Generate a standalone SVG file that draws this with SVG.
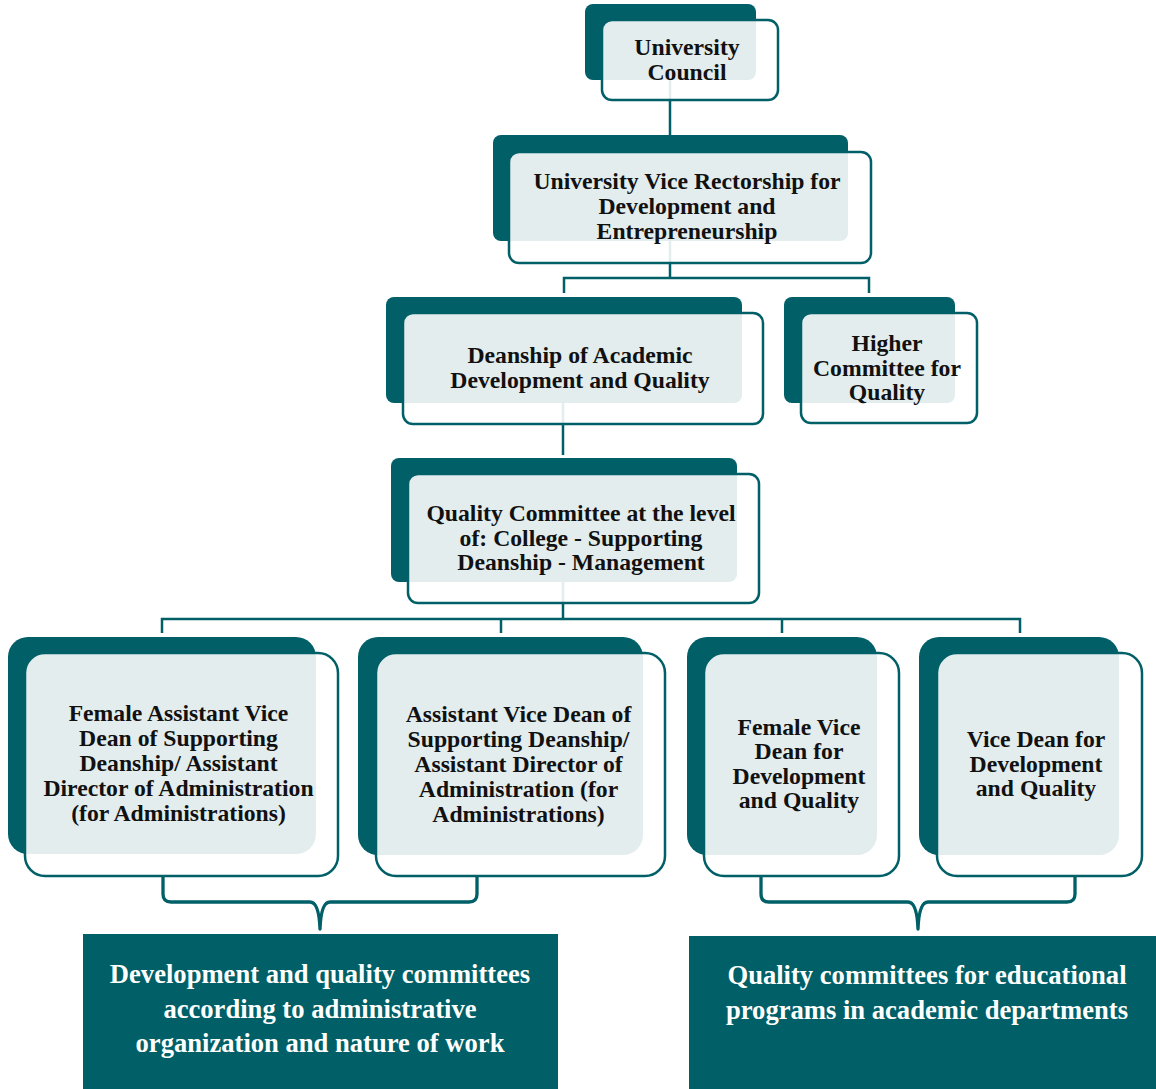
<svg xmlns="http://www.w3.org/2000/svg" width="1156" height="1089" viewBox="0 0 1156 1089">
  <style>
    .back { fill: #005F67; }
    .front { fill: #ffffff; fill-opacity: 0.89; stroke: #005F67; stroke-width: 2.5; }
    .lbl { font-family: "Liberation Serif", "Times New Roman", serif; font-weight: bold; font-size: 23.7px; fill: #111111; text-anchor: middle; }
    .note { fill: #005F67; }
    .noteText { font-family: "Liberation Serif", "Times New Roman", serif; font-weight: bold; font-size: 26.6px; fill: #ffffff; text-anchor: middle; }
    .conn { fill: none; stroke: #005F67; stroke-width: 2.5; }
    .brace { fill: none; stroke: #005F67; stroke-width: 3.3; stroke-linejoin: round; }
  </style>
  <rect width="1156" height="1089" fill="#ffffff"/>

  <!-- connectors sit behind the translucent cards -->
  <g id="connectors">
    <path class="conn" d="M670,80 V135"/>
    <path class="conn" d="M670,241 V278 M564,293 V278 H869 V293"/>
    <path class="conn" d="M563,403 V455"/>
    <path class="conn" d="M563,582 V619 M162,633 V619 H1020 V633 M501,619 V633 M782,619 V633"/>
    <path class="brace" d="M163,877 V894 Q163,902 171,902 H310 Q319,902 320,929 Q321,902 330,902 H469 Q477,902 477,894 V877"/>
    <path class="brace" d="M761,877 V894 Q761,902 769,902 H908 Q917,902 918,929 Q919,902 928,902 H1067 Q1075,902 1075,894 V877"/>
  </g>

  <g id="university-council">
    <rect class="back" x="585" y="4" width="171" height="76" rx="8"/>
    <rect class="front" x="602" y="20" width="176" height="80" rx="10"/>
    <text class="lbl" x="687" y="55">University</text>
    <text class="lbl" x="687" y="80">Council</text>
  </g>

  <g id="vice-rectorship">
    <rect class="back" x="493" y="135" width="355" height="106" rx="8"/>
    <rect class="front" x="509" y="152" width="362" height="111" rx="10"/>
    <text class="lbl" x="687" y="189">University Vice Rectorship for</text>
    <text class="lbl" x="687" y="214">Development and</text>
    <text class="lbl" x="687" y="239">Entrepreneurship</text>
  </g>

  <g id="deanship-academic">
    <rect class="back" x="386" y="297" width="356" height="106" rx="8"/>
    <rect class="front" x="403" y="313" width="360" height="111" rx="10"/>
    <text class="lbl" x="580" y="363">Deanship of Academic</text>
    <text class="lbl" x="580" y="388">Development and Quality</text>
  </g>

  <g id="higher-committee">
    <rect class="back" x="784" y="297" width="171" height="106" rx="8"/>
    <rect class="front" x="801" y="313" width="176" height="110" rx="10"/>
    <text class="lbl" x="887" y="351">Higher</text>
    <text class="lbl" x="887" y="376">Committee for</text>
    <text class="lbl" x="887" y="400">Quality</text>
  </g>

  <g id="quality-committee">
    <rect class="back" x="391" y="458" width="346" height="124" rx="8"/>
    <rect class="front" x="408" y="474" width="351" height="129" rx="10"/>
    <text class="lbl" x="581" y="521">Quality Committee at the level</text>
    <text class="lbl" x="581" y="546">of: College - Supporting</text>
    <text class="lbl" x="581" y="570">Deanship - Management</text>
  </g>

  <g id="female-assistant-vice-dean">
    <rect class="back" x="8" y="637" width="308" height="217" rx="20"/>
    <rect class="front" x="25" y="653" width="313" height="223" rx="20"/>
    <text class="lbl" x="178.5" y="721">Female Assistant Vice</text>
    <text class="lbl" x="178.5" y="746">Dean of Supporting</text>
    <text class="lbl" x="178.5" y="771">Deanship/ Assistant</text>
    <text class="lbl" x="178.5" y="796">Director of Administration</text>
    <text class="lbl" x="178.5" y="821">(for Administrations)</text>
  </g>

  <g id="assistant-vice-dean">
    <rect class="back" x="358" y="637" width="285" height="218" rx="20"/>
    <rect class="front" x="376" y="653" width="289" height="223" rx="20"/>
    <text class="lbl" x="518.5" y="722">Assistant Vice Dean of</text>
    <text class="lbl" x="518.5" y="747">Supporting Deanship/</text>
    <text class="lbl" x="518.5" y="772">Assistant Director of</text>
    <text class="lbl" x="518.5" y="797">Administration (for</text>
    <text class="lbl" x="518.5" y="822">Administrations)</text>
  </g>

  <g id="female-vice-dean">
    <rect class="back" x="687" y="637" width="190" height="218" rx="20"/>
    <rect class="front" x="704" y="653" width="195" height="223" rx="20"/>
    <text class="lbl" x="799" y="735">Female Vice</text>
    <text class="lbl" x="799" y="759">Dean for</text>
    <text class="lbl" x="799" y="784">Development</text>
    <text class="lbl" x="799" y="808">and Quality</text>
  </g>

  <g id="vice-dean">
    <rect class="back" x="919" y="637" width="200" height="218" rx="20"/>
    <rect class="front" x="937" y="653" width="205" height="223" rx="20"/>
    <text class="lbl" x="1036" y="747">Vice Dean for</text>
    <text class="lbl" x="1036" y="772">Development</text>
    <text class="lbl" x="1036" y="796">and Quality</text>
  </g>

  <g id="admin-committees">
    <rect class="note" x="83" y="934" width="475" height="155"/>
    <text class="noteText" x="320" y="983">Development and quality committees</text>
    <text class="noteText" x="320" y="1018">according to administrative</text>
    <text class="noteText" x="320" y="1052">organization and nature of work</text>
  </g>

  <g id="program-committees">
    <rect class="note" x="689" y="936" width="467" height="153"/>
    <text class="noteText" x="927" y="984">Quality committees for educational</text>
    <text class="noteText" x="927" y="1019">programs in academic departments</text>
  </g>
</svg>
